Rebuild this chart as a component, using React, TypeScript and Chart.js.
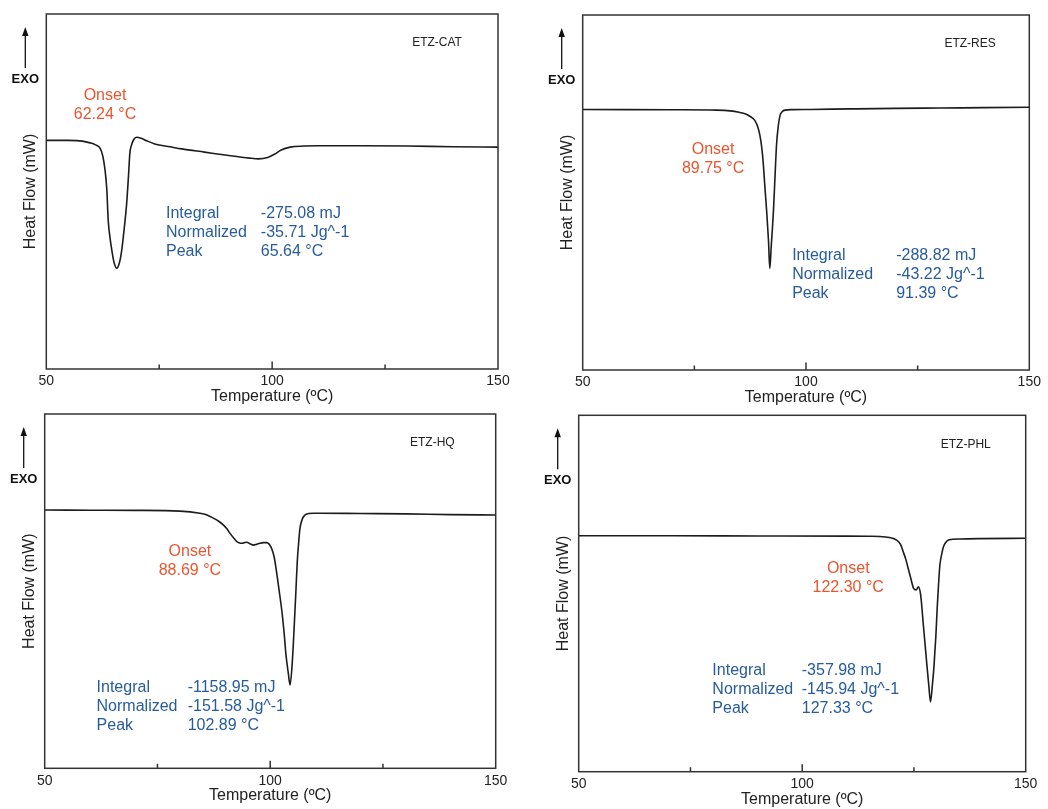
import React, { useEffect, useRef } from 'react';
import { Chart, registerables } from 'chart.js';

Chart.register(...registerables);

const FONT = "'Liberation Sans', Arial, Helvetica, sans-serif";
const RED = '#e9552f';
const BLUE = '#275c9c';
const INK = '#1c1c1c';

// ---- Data (temperature in °C, heat flow in arbitrary relative units, EXO up) ----
const catTemp = [50, 55, 58, 59.7, 60.8, 61.9, 62.5, 63.0, 63.4, 63.7, 64.1, 64.5, 65.0, 65.6, 66.2, 66.7, 67.2, 67.8, 68.2, 68.5, 68.9, 69.3, 70.0, 71.0, 72.2, 74, 77.4, 80, 85, 90, 95, 97, 99, 100.5, 102, 104, 107, 110, 120, 130, 140, 150];
const catFlow = [64.4, 64.4, 64.2, 63.7, 63.2, 62.2, 60.0, 56.1, 50.5, 42.0, 37.0, 33.5, 30.0, 28.4, 30.0, 33.5, 39.0, 46.8, 54.5, 60.8, 63.2, 64.5, 65.3, 65.0, 64.3, 63.4, 62.6, 62.0, 61.1, 60.2, 59.4, 59.2, 59.6, 60.5, 61.7, 62.5, 62.8, 62.9, 62.9, 62.8, 62.6, 62.5];

const resTemp = [50, 60, 70, 80, 83, 85, 86.5, 87.5, 88.5, 89.3, 89.9, 90.4, 90.8, 91.2, 91.6, 91.9, 92.2, 92.7, 93.1, 93.4, 93.8, 94.2, 94.7, 95.3, 97, 100.9, 110, 120, 130, 140, 150];
const resFlow = [73.4, 73.35, 73.3, 73.2, 73.0, 72.6, 72.1, 71.4, 70.4, 68.1, 64.5, 58.7, 51.5, 44.6, 36.5, 28.6, 34.5, 44.6, 55.5, 63.4, 68.8, 71.8, 72.8, 73.2, 73.35, 73.4, 73.55, 73.7, 73.8, 73.9, 74.0];

const hqTemp = [50, 60, 70, 80, 84.4, 86, 87.4, 88.5, 89.6, 90.4, 91.1, 91.9, 92.6, 93.2, 93.7, 94.3, 94.8, 95.5, 96.3, 97.0, 97.7, 98.5, 99.2, 99.8, 100.3, 100.9, 101.4, 102.0, 102.6, 103.1, 103.5, 104.0, 104.4, 104.9, 105.3, 105.7, 106.0, 106.3, 106.6, 107.1, 107.7, 108.5, 109.6, 111, 120, 130, 140, 150];
const hqFlow = [72.9, 72.85, 72.8, 72.6, 72.0, 71.5, 70.6, 69.8, 68.7, 67.6, 66.3, 65.0, 64.0, 63.6, 63.5, 63.7, 63.8, 63.4, 63.0, 63.2, 63.5, 63.7, 63.7, 63.2, 62.1, 59.5, 55.5, 50.0, 44.2, 38.0, 32.0, 27.0, 23.5, 30.0, 39.5, 50.0, 58.3, 63.5, 67.7, 70.3, 71.5, 71.9, 72.0, 72.0, 71.9, 71.8, 71.6, 71.5];

const phlTemp = [50, 70, 90, 110, 115, 117.4, 119.5, 121.1, 122.0, 122.6, 123.2, 123.7, 124.3, 124.9, 125.5, 126.0, 126.5, 127.1, 127.5, 127.9, 128.3, 128.7, 129.1, 129.5, 129.9, 130.2, 130.5, 130.8, 131.2, 131.6, 132.1, 132.7, 135.3, 140, 150];
const phlFlow = [66.2, 66.2, 66.15, 66.1, 66.05, 66.0, 65.7, 65.0, 63.8, 61.7, 59.5, 57.1, 54.2, 51.5, 51.0, 51.9, 49.6, 41.2, 35.5, 29.9, 24.5, 19.6, 24.0, 29.9, 38.0, 45.9, 52.5, 58.0, 61.0, 63.1, 64.3, 65.0, 65.3, 65.4, 65.5];

const temps = [catTemp, resTemp, hqTemp, phlTemp];
const flows = [catFlow, resFlow, hqFlow, phlFlow];

const sampleNames = ['ETZ-CAT', 'ETZ-RES', 'ETZ-HQ', 'ETZ-PHL'];
const onsetValues = ['62.24 °C', '89.75 °C', '88.69 °C', '122.30 °C'];
const integralValues = ['-275.08 mJ', '-288.82 mJ', '-1158.95 mJ', '-357.98 mJ'];
const normalizedValues = ['-35.71 Jg^-1', '-43.22 Jg^-1', '-151.58 Jg^-1', '-145.94 Jg^-1'];
const peakValues = ['65.64 °C', '91.39 °C', '102.89 °C', '127.33 °C'];
const rowLabels = ['Integral', 'Normalized', 'Peak'];

const tickValues = [50, 75, 100, 125, 150];
const tickLabels = ['50', '', '100', '', '150'];

// ---- Layout (page pixels for plot areas; annotation anchors in data units) ----
const PAGE_W = 1048;
const PAGE_H = 809;
const panelLayouts = [
  { area: [46.3, 14, 498, 369], onset: [63.0, 76.9], table: [76.5, 97.5, 43.7] },
  { area: [582.7, 15, 1029.3, 370], onset: [79.2, 62.0], table: [96.9, 120.2, 32.1] },
  { area: [44.7, 414, 495.7, 768.3], onset: [82.2, 61.1], table: [61.5, 81.7, 22.9] },
  { area: [578.7, 415.3, 1025.7, 771.7], onset: [110.3, 56.9], table: [79.9, 99.9, 28.3] },
];

function Panel({ idx }: { idx: number }) {
  const ref = useRef<HTMLCanvasElement>(null);
  useEffect(() => {
    const p = panelLayouts[idx];
    const [L, T, R, B] = p.area;
    const decor = {
      id: 'decor' + idx,
      afterDraw(chart: any) {
        const { ctx, chartArea: a, scales } = chart;
        const x = scales.x;
        const y = scales.y;
        ctx.save();
        // frame
        ctx.strokeStyle = '#333';
        ctx.lineWidth = 1.5;
        ctx.strokeRect(a.left, a.top, a.right - a.left, a.bottom - a.top);
        // inward ticks
        tickValues.forEach((v) => {
          if (v === 50 || v === 150) return;
          const px = x.getPixelForValue(v);
          const len = v === 100 ? 7.5 : 4.5;
          ctx.beginPath();
          ctx.moveTo(px, a.bottom);
          ctx.lineTo(px, a.bottom - len);
          ctx.stroke();
        });
        // EXO arrow
        const ax = a.left - 21;
        ctx.strokeStyle = '#111';
        ctx.fillStyle = '#111';
        ctx.lineWidth = 1.3;
        ctx.beginPath();
        ctx.moveTo(ax, a.top + 54);
        ctx.lineTo(ax, a.top + 20);
        ctx.stroke();
        ctx.beginPath();
        ctx.moveTo(ax, a.top + 13);
        ctx.lineTo(ax - 3.2, a.top + 22);
        ctx.lineTo(ax + 3.2, a.top + 22);
        ctx.closePath();
        ctx.fill();
        ctx.font = `bold 13px ${FONT}`;
        ctx.textAlign = 'center';
        ctx.textBaseline = 'middle';
        ctx.fillText('EXO', ax, a.top + 65);
        // sample name
        ctx.font = `12px ${FONT}`;
        ctx.textAlign = 'left';
        ctx.fillStyle = '#222';
        ctx.fillText(sampleNames[idx], x.getPixelForValue(131), y.getPixelForValue(91.8));
        // onset
        ctx.font = `16px ${FONT}`;
        ctx.fillStyle = RED;
        ctx.textAlign = 'center';
        const ox = x.getPixelForValue(p.onset[0]);
        const oy = y.getPixelForValue(p.onset[1]);
        ctx.fillText('Onset', ox, oy);
        ctx.fillText(onsetValues[idx], ox, oy + 19);
        // table
        ctx.fillStyle = BLUE;
        ctx.textAlign = 'left';
        const lx = x.getPixelForValue(p.table[0]);
        const vx = x.getPixelForValue(p.table[1]);
        const ty = y.getPixelForValue(p.table[2]);
        const vals = [integralValues[idx], normalizedValues[idx], peakValues[idx]];
        rowLabels.forEach((lab, i) => {
          ctx.fillText(lab, lx, ty + i * 19);
          ctx.fillText(vals[i], vx, ty + i * 19);
        });
        ctx.restore();
      },
    };
    const chart = new Chart(ref.current as HTMLCanvasElement, {
      type: 'line',
      data: {
        datasets: [
          {
            data: temps[idx].map((t, i) => ({ x: t, y: flows[idx][i] })),
            borderColor: INK,
            borderWidth: 1.6,
            pointRadius: 0,
            cubicInterpolationMode: 'monotone',
            fill: false,
          },
        ],
      },
      options: {
        animation: false,
        responsive: false,
        maintainAspectRatio: false,
        events: [],
        layout: { padding: { left: L - 25, top: T, right: PAGE_W - R, bottom: PAGE_H - B - 37 } },
        plugins: { legend: { display: false }, tooltip: { enabled: false } },
        scales: {
          x: {
            type: 'linear',
            min: 50,
            max: 150,
            afterBuildTicks: (s: any) => {
              s.ticks = tickValues.map((v) => ({ value: v }));
            },
            afterFit: (s: any) => {
              s.height = 37;
            },
            grid: { display: false, drawTicks: false },
            border: { display: false },
            ticks: {
              autoSkip: false,
              maxRotation: 0,
              padding: 4,
              color: '#222',
              font: { size: 14, family: FONT },
              callback: (v: any) => tickLabels[tickValues.indexOf(Number(v))] ?? '',
            },
            title: {
              display: true,
              text: 'Temperature (ºC)',
              color: '#222',
              font: { size: 16, family: FONT },
              padding: { top: 0, bottom: 0 },
            },
          },
          y: {
            type: 'linear',
            min: 0,
            max: 100,
            afterFit: (s: any) => {
              s.width = 25;
            },
            grid: { display: false, drawTicks: false },
            border: { display: false },
            ticks: { display: false },
            title: {
              display: true,
              text: 'Heat Flow (mW)',
              color: '#222',
              font: { size: 16, family: FONT },
              padding: { top: 0, bottom: 0 },
            },
          },
        },
      } as any,
      plugins: [decor],
    });
    return () => chart.destroy();
  }, [idx]);
  return (
    <canvas
      ref={ref}
      width={PAGE_W}
      height={PAGE_H}
      style={{ position: 'absolute', left: 0, top: 0, width: PAGE_W, height: PAGE_H }}
    />
  );
}

export default function App() {
  return (
    <div style={{ position: 'absolute', left: 0, top: 0, width: PAGE_W, height: PAGE_H, background: '#fff' }}>
      {[0, 1, 2, 3].map((i) => (
        <Panel key={i} idx={i} />
      ))}
    </div>
  );
}
